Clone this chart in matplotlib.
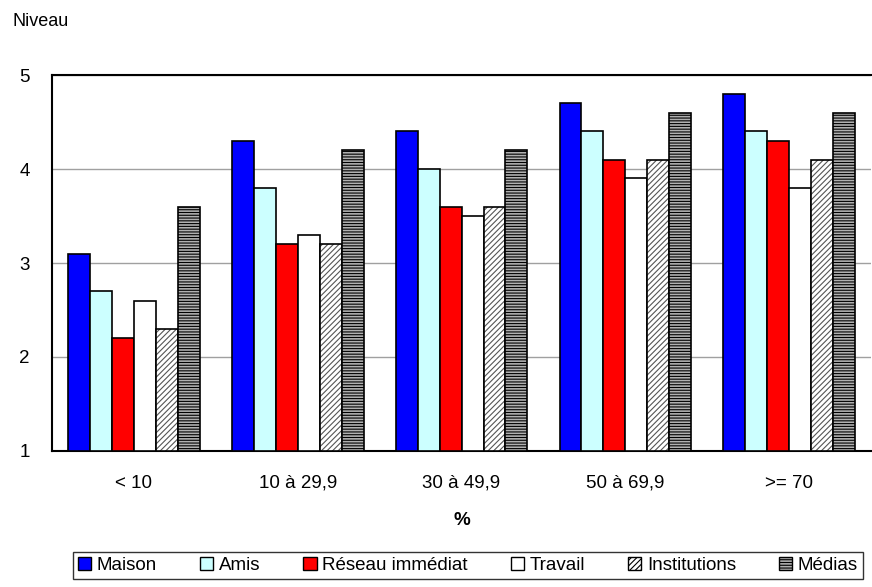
import numpy as np
import matplotlib.pyplot as plt
from matplotlib.patches import Patch

plt.rcParams['font.family'] = ['Liberation Sans', 'DejaVu Sans']
plt.rcParams['hatch.linewidth'] = 0.8

# categories and series
categories = ['< 10', '10 à 29,9', '30 à 49,9', '50 à 69,9', '>= 70']
series = ['Maison', 'Amis', 'Réseau immédiat', 'Travail', 'Institutions', 'Médias']
maison = [3.1, 4.3, 4.4, 4.7, 4.8]
amis = [2.7, 3.8, 4.0, 4.4, 4.4]
reseau = [2.2, 3.2, 3.6, 4.1, 4.3]
travail = [2.6, 3.3, 3.5, 3.9, 3.8]
institutions = [2.3, 3.2, 3.6, 4.1, 4.1]
medias = [3.6, 4.2, 4.2, 4.6, 4.6]
values = [maison, amis, reseau, travail, institutions, medias]

# styles per series
colors = ['#0000ff', '#ccffff', '#ff0000', '#ffffff', '#ffffff', '#b0b0b0']
hatches = [None, None, None, None, '//////', '------']
hatch_colors = ['black', 'black', 'black', 'black', '#555555', 'black']

fig = plt.figure(figsize=(8.72, 5.87), dpi=100)
ax = fig.add_axes([0.0596, 0.2317, 0.9394, 0.6405])

x = np.arange(len(categories))
width = 0.134
for i, vals in enumerate(values):
    offs = (i - 2.5) * width
    bars = ax.bar(x + offs, np.array(vals) - 1, width, bottom=1,
                  color=colors[i], edgecolor='black', linewidth=1.2,
                  hatch=hatches[i], zorder=3)
    for b in bars:
        b._hatch_color = plt.matplotlib.colors.to_rgba(hatch_colors[i])

ax.set_ylim(1, 5)
ax.set_xlim(-0.5, len(categories) - 0.5)
ax.set_yticks([1, 2, 3, 4, 5])
ax.set_xticks(x)
ax.set_xticklabels(categories)
ax.tick_params(axis='both', length=0, labelsize=13.5)
ax.tick_params(axis='x', pad=17)
ax.tick_params(axis='y', pad=16)
ax.yaxis.grid(True, color='#a0a0a0', linewidth=1, zorder=0)
for s in ax.spines.values():
    s.set_linewidth(1.5)
ax.spines['right'].set_visible(False)

ax.set_xlabel('%', fontsize=13.5, fontweight='bold', labelpad=15)
fig.text(12 / 872, 1 - 22 / 587, 'Niveau', fontsize=13, va='center', ha='left')

handles = [Patch(facecolor=colors[i], edgecolor='black', hatch=hatches[i])
           for i in range(len(series))]
leg = fig.legend(handles, series, loc='lower center', ncol=6,
                 bbox_to_anchor=(468 / 872, -0.002), fontsize=13.5,
                 handlelength=0.7, handleheight=0.7, handletextpad=0.3,
                 columnspacing=2.3, fancybox=False, edgecolor='#333333',
                 framealpha=1, borderpad=0.25)
leg.get_frame().set_linewidth(1)

fig.savefig('out.png', dpi=100)
